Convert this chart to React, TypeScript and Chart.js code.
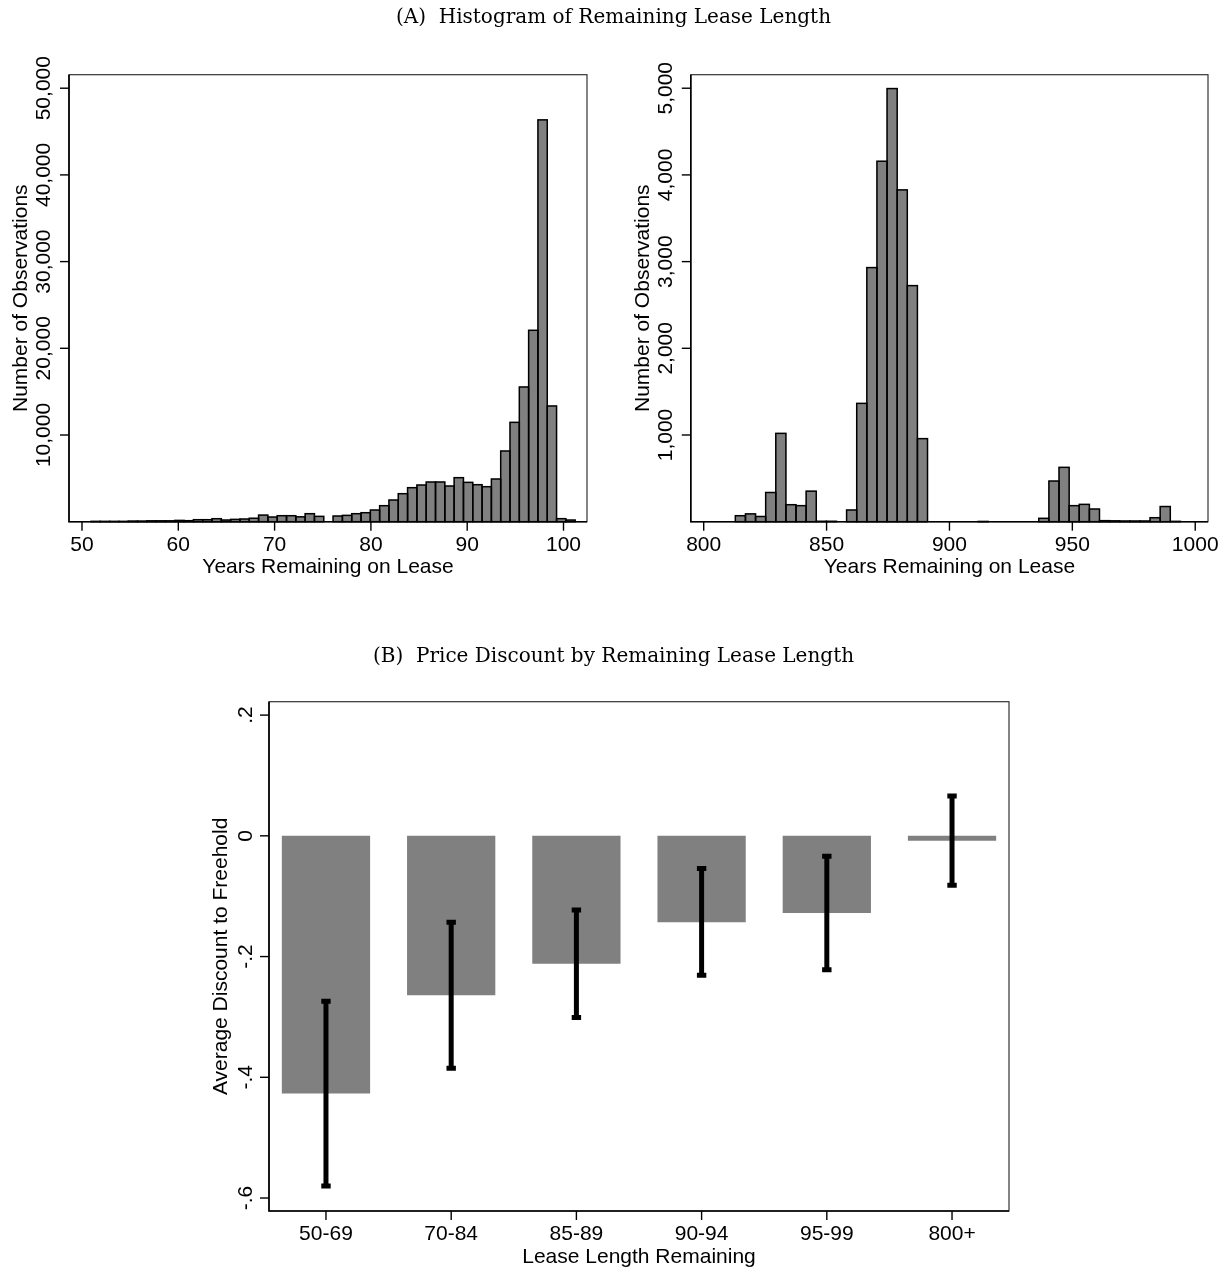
import React, { useEffect, useRef } from "react";
import { Chart, registerables } from "chart.js";
Chart.register(...registerables);

const W = 1227;
const H = 1270;

// ---------- Panel A: histograms ----------
const leftBinStart = 50.93;
const leftBinWidth = 0.967;
const leftCounts = [
  40, 40, 40, 40, 70, 70, 100, 100, 100, 150, 115, 230, 230, 346, 192, 269,
  308, 400, 760, 538, 692, 692, 560, 923, 615, 0, 654, 730, 923, 1038, 1346,
  1846, 2500, 3230, 3923, 4230, 4577, 4577, 4115, 5077, 4538, 4269, 4038,
  4923, 8154, 11461, 15538, 22077, 46346, 13346, 350, 190,
];
const leftXTicks = [50, 60, 70, 80, 90, 100];
const leftYTicks = [10000, 20000, 30000, 40000, 50000];
const leftYTickLabels = ["10,000", "20,000", "30,000", "40,000", "50,000"];

const rightBinStart = 812.87;
const rightBinWidth = 4.116;
const rightCounts = [
  69, 90, 60, 337, 1019, 196, 185, 352, 5, 5, 0, 135, 1365, 2931, 4158, 4996,
  3827, 2723, 958, 0, 0, 0, 0, 0, 3, 0, 0, 0, 0, 0, 39, 469, 627, 185, 200,
  146, 12, 10, 8, 8, 8, 46, 175, 4,
];
const rightXTicks = [800, 850, 900, 950, 1000];
const rightYTicks = [1000, 2000, 3000, 4000, 5000];
const rightYTickLabels = ["1,000", "2,000", "3,000", "4,000", "5,000"];

// ---------- Panel B: discount bars ----------
const categories = ["50-69", "70-84", "85-89", "90-94", "95-99", "800+"];
const meanDiscount = [-0.427, -0.264, -0.212, -0.143, -0.128, -0.008];
const ciLow = [-0.58, -0.385, -0.301, -0.231, -0.222, -0.082];
const ciHigh = [-0.274, -0.143, -0.123, -0.054, -0.034, 0.066];
const bYTicks = [0.2, 0, -0.2, -0.4, -0.6];
const bYTickLabels = [".2", "0", "-.2", "-.4", "-.6"];

const SANS = '"Liberation Sans", Arial, Helvetica, sans-serif';
const SERIF = '"DejaVu Serif", "Liberation Serif", serif';

type AxisCfg = {
  xTicks: number[];
  xLabels: string[];
  yTicks: number[];
  yLabels: string[];
  xTitle: string;
  yTitle: string;
  outlines?: boolean;
  yLabelGap: number;
  title?: { text: string; y: number };
  errorBars?: boolean;
};

function makePlugin(cfg: AxisCfg) {
  return {
    id: "stataAxes",
    afterDatasetsDraw(chart: any) {
      const ctx = chart.ctx as CanvasRenderingContext2D;
      const meta = chart.getDatasetMeta(0);
      const ys = chart.scales.y;
      ctx.save();
      if (cfg.outlines) {
        ctx.strokeStyle = "#000";
        ctx.lineWidth = 1.5;
        const vals = chart.data.datasets[0].data as any[];
        meta.data.forEach((el: any, i: number) => {
          if (!vals[i] || vals[i].y === 0) return;
          const p = el.getProps(["x", "y", "base", "width"], true);
          ctx.strokeRect(p.x - p.width / 2, p.y, p.width, p.base - p.y);
        });
      }
      if (cfg.errorBars) {
        ctx.strokeStyle = "#000";
        ctx.lineWidth = 5;
        ctx.lineCap = "butt";
        meta.data.forEach((el: any, i: number) => {
          const p = el.getProps(["x"], true);
          const yLo = ys.getPixelForValue(ciLow[i]);
          const yHi = ys.getPixelForValue(ciHigh[i]);
          ctx.beginPath();
          ctx.moveTo(p.x, yLo);
          ctx.lineTo(p.x, yHi);
          ctx.stroke();
          ctx.beginPath();
          ctx.moveTo(p.x - 4.7, yLo);
          ctx.lineTo(p.x + 4.7, yLo);
          ctx.moveTo(p.x - 4.7, yHi);
          ctx.lineTo(p.x + 4.7, yHi);
          ctx.stroke();
        });
      }
      ctx.restore();
    },
    afterDraw(chart: any) {
      const ctx = chart.ctx as CanvasRenderingContext2D;
      const a = chart.chartArea;
      const xs = chart.scales.x;
      const ys = chart.scales.y;
      ctx.save();
      // plot region outline
      ctx.strokeStyle = "#333";
      ctx.lineWidth = 1.2;
      ctx.strokeRect(a.left, a.top, a.right - a.left, a.bottom - a.top);
      // axes
      ctx.strokeStyle = "#000";
      ctx.lineWidth = 1.6;
      ctx.beginPath();
      ctx.moveTo(a.left, a.top);
      ctx.lineTo(a.left, a.bottom);
      ctx.lineTo(a.right, a.bottom);
      ctx.stroke();
      ctx.fillStyle = "#000";
      ctx.font = `21px ${SANS}`;
      // x ticks
      ctx.textAlign = "center";
      ctx.textBaseline = "alphabetic";
      ctx.lineWidth = 1.4;
      cfg.xTicks.forEach((v, i) => {
        const px = xs.getPixelForValue(v);
        ctx.beginPath();
        ctx.moveTo(px, a.bottom);
        ctx.lineTo(px, a.bottom + 9);
        ctx.stroke();
        ctx.fillText(cfg.xLabels[i], px, a.bottom + 29);
      });
      ctx.fillText(cfg.xTitle, (a.left + a.right) / 2, a.bottom + 51.5);
      // y ticks
      cfg.yTicks.forEach((v, i) => {
        const py = ys.getPixelForValue(v);
        ctx.beginPath();
        ctx.moveTo(a.left, py);
        ctx.lineTo(a.left - 9, py);
        ctx.stroke();
        ctx.save();
        ctx.translate(a.left - cfg.yLabelGap, py);
        ctx.rotate(-Math.PI / 2);
        ctx.fillText(cfg.yLabels[i], 0, 0);
        ctx.restore();
      });
      ctx.save();
      ctx.translate(a.left - 42, (a.top + a.bottom) / 2);
      ctx.rotate(-Math.PI / 2);
      ctx.fillText(cfg.yTitle, 0, 0);
      ctx.restore();
      if (cfg.title) {
        ctx.font = `20px ${SERIF}`;
        ctx.textAlign = "center";
        ctx.fillText(cfg.title.text, 613.5, cfg.title.y);
      }
      ctx.restore();
    },
  };
}

function histChart(
  canvas: HTMLCanvasElement,
  counts: number[],
  start: number,
  width: number,
  frame: { l: number; t: number; r: number; b: number },
  xMin: number,
  xMax: number,
  xStep: number,
  yMax: number,
  cfg: AxisCfg
) {
  const data = counts.map((c, i) => ({ x: start + (i + 0.5) * width, y: c }));
  return new Chart(canvas, {
    type: "bar",
    data: {
      datasets: [
        {
          data,
          backgroundColor: "#808080",
          borderWidth: 0,
          barPercentage: 1,
          categoryPercentage: 1,
        } as any,
      ],
    },
    options: {
      responsive: false,
      animation: false,
      events: [],
      layout: {
        padding: { left: frame.l, top: frame.t, right: W - frame.r, bottom: H - frame.b },
      },
      plugins: { legend: { display: false }, tooltip: { enabled: false } },
      scales: {
        x: {
          type: "linear",
          display: false,
          offset: false,
          min: xMin,
          max: xMax,
          ticks: { stepSize: xStep, includeBounds: false },
        },
        y: { type: "linear", display: false, min: 0, max: yMax },
      },
    } as any,
    plugins: [makePlugin(cfg)],
  });
}

export default function App() {
  const c1 = useRef<HTMLCanvasElement>(null);
  const c2 = useRef<HTMLCanvasElement>(null);
  const c3 = useRef<HTMLCanvasElement>(null);

  useEffect(() => {
    const charts: Chart[] = [];
    charts.push(
      histChart(
        c1.current!,
        leftCounts,
        leftBinStart,
        leftBinWidth,
        { l: 69, t: 74.7, r: 587, b: 521.7 },
        48.65,
        102.44,
        10,
        51557,
        {
          xTicks: leftXTicks,
          xLabels: leftXTicks.map(String),
          yTicks: leftYTicks,
          yLabels: leftYTickLabels,
          xTitle: "Years Remaining on Lease",
          yTitle: "Number of Observations",
          outlines: true,
          yLabelGap: 19,
          title: { text: "(A)  Histogram of Remaining Lease Length", y: 23 },
        }
      )
    );
    charts.push(
      histChart(
        c2.current!,
        rightCounts,
        rightBinStart,
        rightBinWidth,
        { l: 690.8, t: 74.7, r: 1208, b: 521.7 },
        794.75,
        1005.2,
        50,
        5156,
        {
          xTicks: rightXTicks,
          xLabels: rightXTicks.map(String),
          yTicks: rightYTicks,
          yLabels: rightYTickLabels,
          xTitle: "Years Remaining on Lease",
          yTitle: "Number of Observations",
          outlines: true,
          yLabelGap: 19,
        }
      )
    );
    const idx = categories.map((_, i) => i);
    charts.push(
      new Chart(c3.current!, {
        type: "bar",
        data: {
          datasets: [
            {
              data: meanDiscount.map((m, i) => ({ x: i, y: m })),
              backgroundColor: "#808080",
              borderWidth: 0,
              barPercentage: 0.705,
              categoryPercentage: 1,
            } as any,
          ],
        },
        options: {
          responsive: false,
          animation: false,
          events: [],
          layout: { padding: { left: 269, top: 701.7, right: W - 1009, bottom: H - 1211 } },
          plugins: { legend: { display: false }, tooltip: { enabled: false } },
          scales: {
            x: {
              type: "linear",
              display: false,
              offset: false,
              min: -0.455,
              max: 5.455,
              ticks: { stepSize: 1, includeBounds: false },
            },
            y: { type: "linear", display: false, min: -0.6215, max: 0.2222 },
          },
        } as any,
        plugins: [
          makePlugin({
            xTicks: idx,
            xLabels: categories,
            yTicks: bYTicks,
            yLabels: bYTickLabels,
            xTitle: "Lease Length Remaining",
            yTitle: "Average Discount to Freehold",
            errorBars: true,
            yLabelGap: 17,
            title: { text: "(B)  Price Discount by Remaining Lease Length", y: 662 },
          }),
        ],
      })
    );
    return () => charts.forEach((c) => c.destroy());
  }, []);

  const cs: React.CSSProperties = { position: "absolute", left: 0, top: 0 };
  return (
    <div style={{ position: "absolute", left: 0, top: 0, width: W, height: H, background: "#fff" }}>
      <canvas ref={c1} width={W} height={H} style={cs} />
      <canvas ref={c2} width={W} height={H} style={cs} />
      <canvas ref={c3} width={W} height={H} style={cs} />
    </div>
  );
}
